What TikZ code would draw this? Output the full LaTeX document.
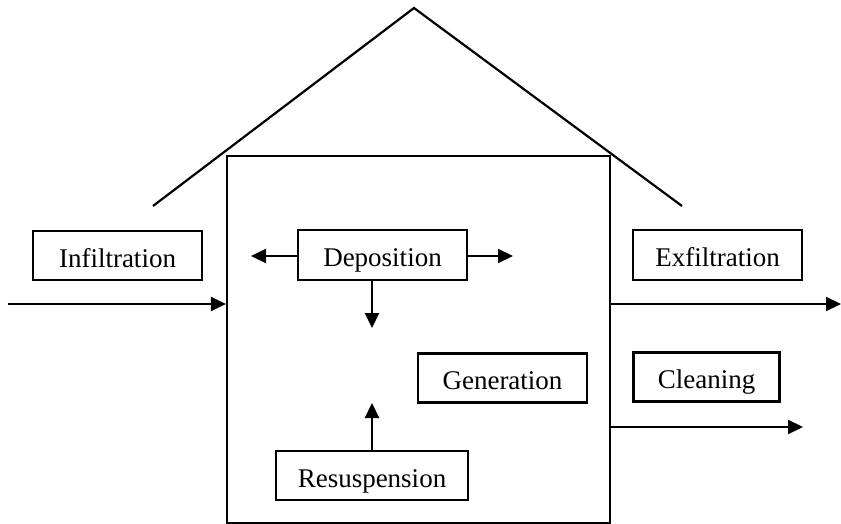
\documentclass[tikz,border=0pt]{standalone}
\usepackage{fontspec}
\setmainfont{Liberation Serif}
\usetikzlibrary{arrows.meta}

\tikzset{
  flowbox/.style={draw, line width=1.1pt, inner sep=0pt, text height=11.5pt, text depth=0pt,
    font=\fontsize{13.5}{15}\selectfont},
  flow/.style={line width=1.1pt, -{Triangle[length=7.5pt,width=7pt]}}
}

\begin{document}
\begin{tikzpicture}[x=0.5pt,y=-0.5pt]
  \useasboundingbox (0,0) rectangle (841,524);
  % roof
  \coordinate (eaveL) at (153,206);
  \coordinate (apex) at (414,8);
  \coordinate (eaveR) at (682,206);
  \draw[line width=1.1pt] (eaveL) -- (apex) -- (eaveR);
  % room
  \node[draw, line width=1.1pt, minimum width=191.5pt, minimum height=183.5pt, inner sep=0pt] (room) at (418.5,339.5) {};
  % boxes
  \node[flowbox, minimum width=84.5pt, minimum height=24.5pt] (infil) at (117.5,255.5) {Infiltration};
  \node[flowbox, minimum width=84.5pt, minimum height=25pt] (depos) at (382.5,255) {Deposition};
  \node[flowbox, minimum width=84.5pt, minimum height=25pt] (exfil) at (717.5,255) {Exfiltration};
  \node[flowbox, minimum width=84.5pt, minimum height=24.5pt] (gener) at (502.5,378) {Generation};
  \node[flowbox, minimum width=73pt, minimum height=24.5pt] (clean) at (706.5,377) {Cleaning};
  \node[flowbox, minimum width=96pt, minimum height=24.5pt] (resus) at (372,475.5) {Resuspension};
  % arrows in and out
  \coordinate (inflow) at (8,304);
  \coordinate (exflow) at (841,304);
  \coordinate (cleanflow) at (803,427);
  \draw[flow] (inflow) -- (inflow -| room.west);
  \draw[flow] (exflow -| room.east) -- (exflow);
  \draw[flow] (cleanflow -| room.east) -- (cleanflow);
  % deposition and resuspension
  \coordinate (depL) at (251,256);
  \coordinate (depR) at (513,256);
  \coordinate (depD) at (372,328);
  \coordinate (resU) at (372,403);
  \draw[flow] (depos.west |- depL) -- (depL);
  \draw[flow] (depos.east |- depR) -- (depR);
  \draw[flow] (depos.south -| depD) -- (depD);
  \draw[flow] (resus.north -| resU) -- (resU);
\end{tikzpicture}
\end{document}
